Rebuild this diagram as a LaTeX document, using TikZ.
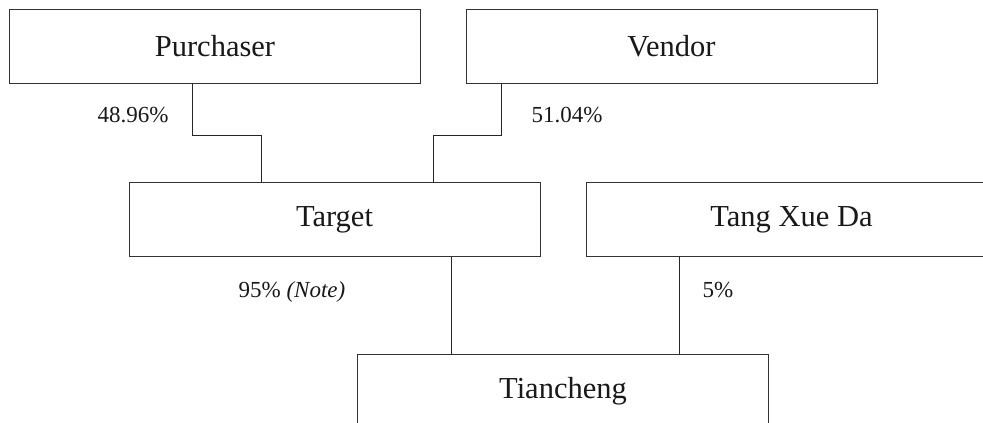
\documentclass[tikz,border=0pt]{standalone}
\usepackage{fontspec}
\setmainfont{Liberation Serif}
\begin{document}
\begin{tikzpicture}[x=1pt,y=1pt,
  entity/.style={draw=black!80, line width=0.9pt, minimum width=411pt, minimum height=74pt,
    inner sep=0pt, font=\fontsize{30.5}{36}\selectfont, text=black!90},
  link/.style={draw=black!85, line width=0.8pt},
  share/.style={inner sep=0pt, font=\fontsize{23}{27}\selectfont, text=black!90}]
\useasboundingbox (0,-423) rectangle (983,0);
\clip (0,-423) rectangle (983,0);
\node[entity] (pur) at (215,-46) {Purchaser};
\node[entity] (ven) at (671.5,-46) {Vendor};
\node[entity] (tgt) at (334.5,-219.5) {Target};
\node[entity] (tang) at (791.5,-219.5) {Tang Xue Da};
\node[entity] (tian) at (563,-391.5) {Tiancheng};
\coordinate (tgtout) at ([xshift=116.5pt]tgt.south);
\coordinate (tangout) at ([xshift=-112.5pt]tang.south);
\draw[link] ([xshift=-23pt]pur.south) -- ++(0,-52) -| ([xshift=-73.5pt]tgt.north);
\draw[link] ([xshift=-170.5pt]ven.south) -- ++(0,-52) -| ([xshift=98.5pt]tgt.north);
\draw[link] (tgtout) -- (tgtout |- tian.north);
\draw[link] (tangout) -- (tangout |- tian.north);
\node[share] (lp) at (133,-115) {48.96\%};
\node[share] (lv) at (567,-115) {51.04\%};
\node[share] (lt) at (292,-292) {95\% \textit{(Note)}};
\node[share] (lg) at (718,-290) {5\%};
\end{tikzpicture}
\end{document}
